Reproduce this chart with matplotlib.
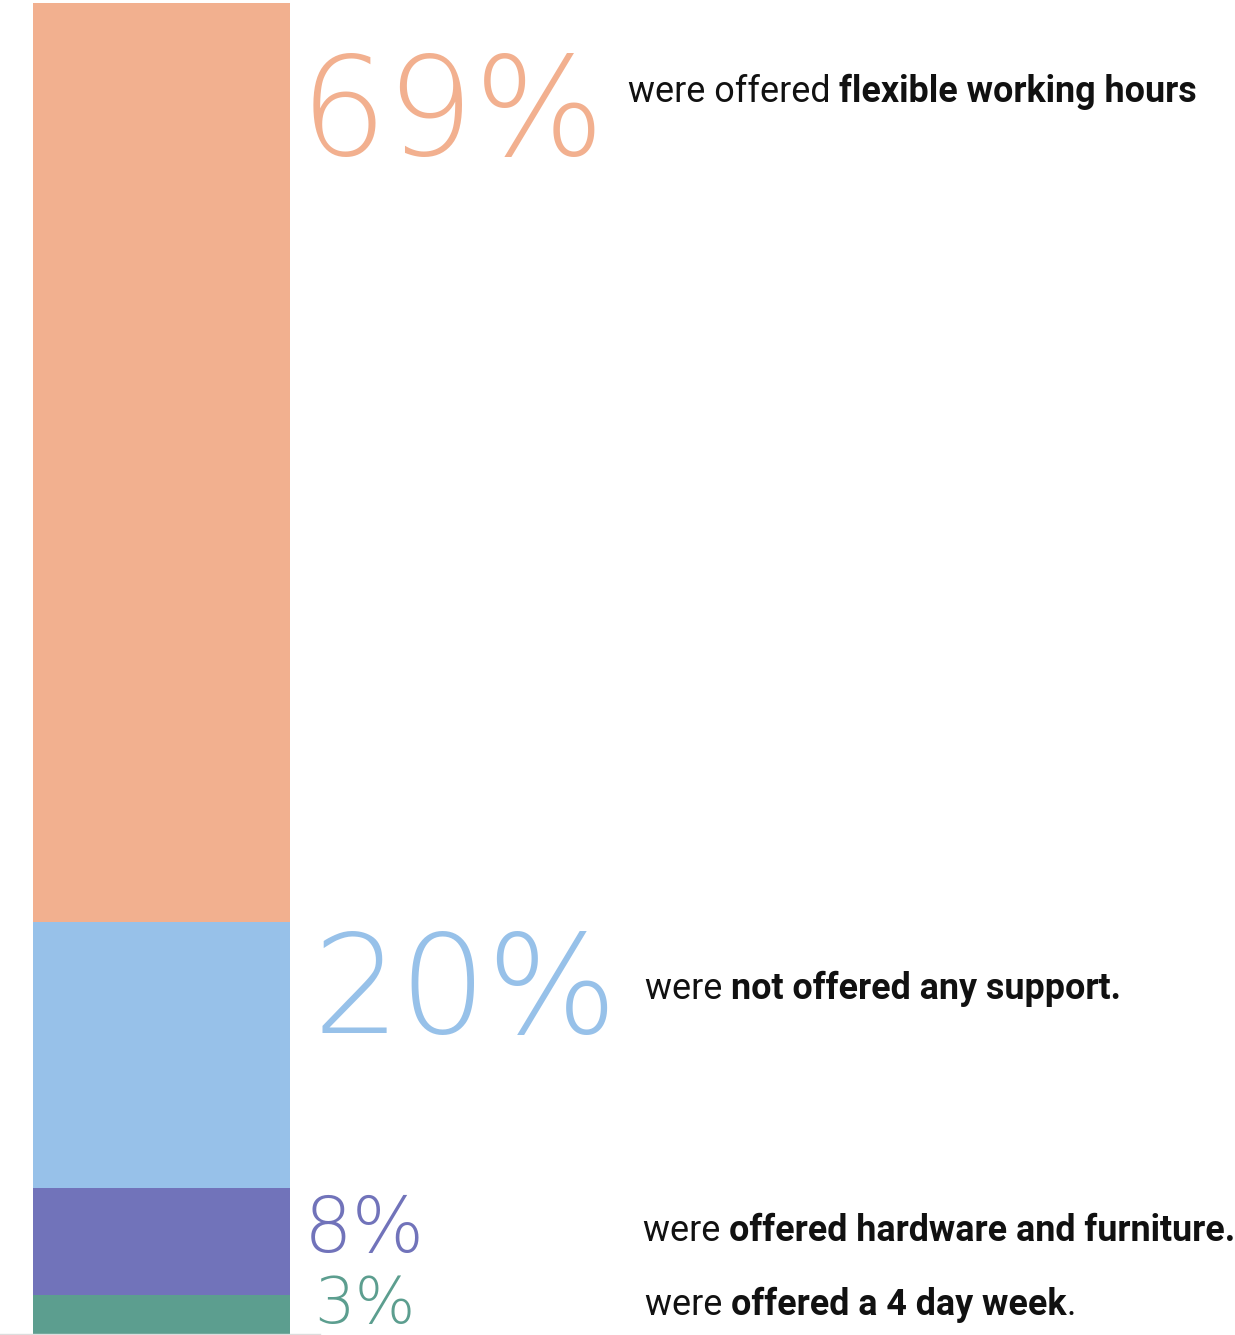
import matplotlib
matplotlib.use("Agg")
from matplotlib import pyplot as plt

# share of respondents per kind of support
shares = [69, 20, 8, 3]
pct_labels = ["69%", "20%", "8%", "3%"]
plain_parts = ["were offered ", "were ", "were ", "were "]
bold_parts = ["flexible working hours", "not offered any support.",
              "offered hardware and furniture.", "offered a 4 day week"]
tail_parts = ["", "", "", "."]
colors = ["#F2B08F", "#97C1E9", "#7173BA", "#5C9E8F"]

W, H = 1235, 1335
fig = plt.figure(figsize=(W / 100, H / 100), dpi=100)
ax = fig.add_axes([0, 0, 1, 1])
ax.set_xlim(0, W)
ax.set_ylim(H, 0)  # pixel-like coordinates, y downwards
ax.axis("off")

# stacked bar, largest share on top
px_per_pct = 1332 / sum(shares)
bottom = H
for val, col in zip(shares[::-1], colors[::-1]):
    h = val * px_per_pct
    ax.bar(161.5, -h, width=257, bottom=bottom, color=col, align="center")
    bottom -= h
ax.plot([0, 320], [1333.5, 1333.5], color="#dddddd", lw=1)

# big percentage numbers: x, baseline, font size (pt)
big_pos = [(300, 155, 99), (313, 1033, 99), (304, 1252, 55), (314, 1323, 46)]
# description lines: x, baseline
desc_pos = [(628, 102), (645, 999), (643, 1241), (645, 1315)]

for lab, col, (x, y, fs) in zip(pct_labels, colors, big_pos):
    ax.text(x, y, lab, color=col, fontsize=fs, family="DejaVu Sans",
            fontweight="light", va="baseline", ha="left")

fig.canvas.draw()
renderer = fig.canvas.get_renderer()
for (x, y), p, b, t in zip(desc_pos, plain_parts, bold_parts, tail_parts):
    cur = x
    for txt, wt in ((p, "normal"), (b, "bold"), (t, "normal")):
        if not txt:
            continue
        tt = ax.text(cur, y, txt, fontsize=25.8, family="Roboto", fontweight=wt,
                     color="#111111", va="baseline", ha="left")
        bb = tt.get_window_extent(renderer)
        # trailing spaces are included in the extent, so advance by width
        cur += bb.width * (W / fig.bbox.width)

fig.savefig("out.png", dpi=100)
